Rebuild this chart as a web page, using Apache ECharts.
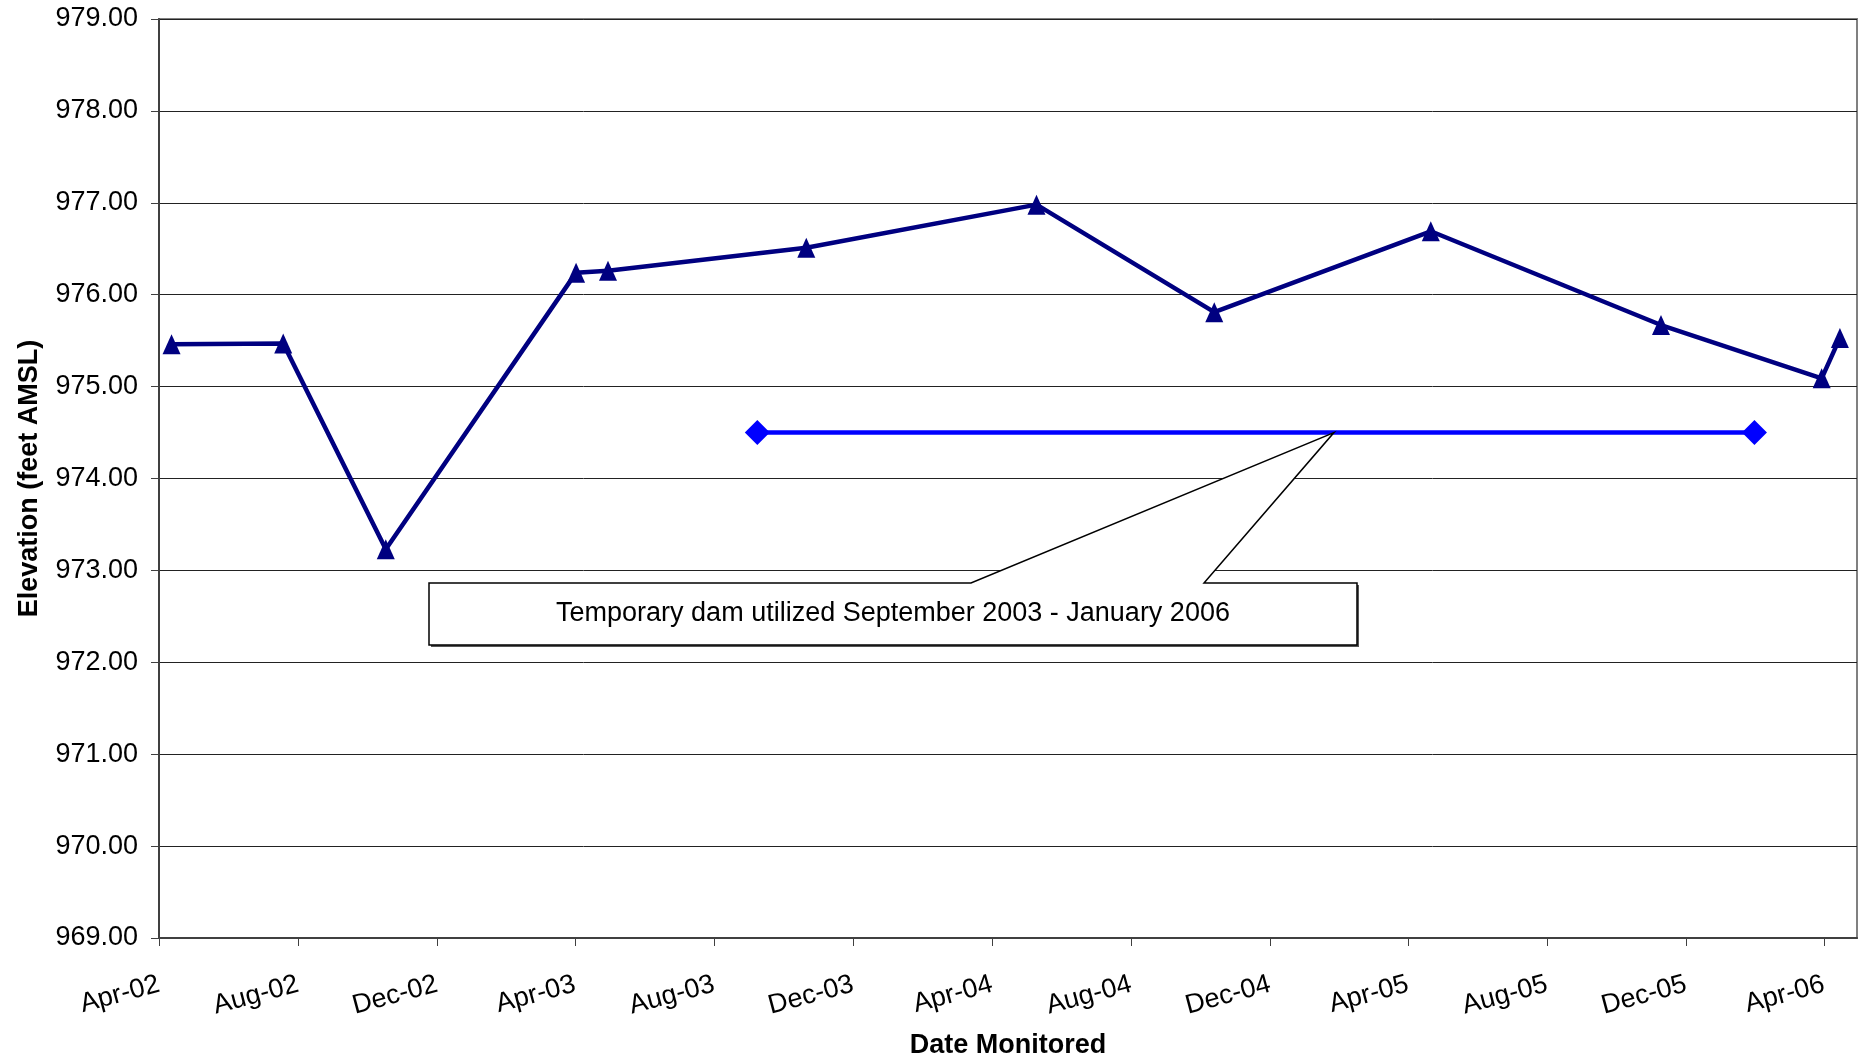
<!DOCTYPE html>
<html>
<head>
<meta charset="utf-8">
<script src="https://cdn.jsdelivr.net/npm/echarts@6/dist/echarts.min.js"></script>
<style>
html,body{margin:0;padding:0;background:#fff;}
#chart{width:1863px;height:1062px;}
</style>
</head>
<body>
<div id="chart"></div>
<script>
// Monitored elevations (feet AMSL)
const monitorDates = ['2002-04-12','2002-07-19','2002-10-17','2003-04-02','2003-04-30','2003-10-21','2004-05-10','2004-10-13','2005-04-21','2005-11-09','2006-03-30','2006-04-15'];
const monitorElev = [975.46, 975.47, 973.23, 976.24, 976.26, 976.51, 976.98, 975.81, 976.69, 975.67, 975.09, 975.53];
// Temporary dam period
const damDates = ['2003-09-08', '2006-01-30'];
const damElev = [974.50, 974.50];
// X-axis tick dates
const tickDates = ['2002-04-01','2002-08-01','2002-12-01','2003-04-01','2003-08-01','2003-12-01','2004-04-01','2004-08-01','2004-12-01','2005-04-01','2005-08-01','2005-12-01','2006-04-01'];
const monthNames = ['Jan','Feb','Mar','Apr','May','Jun','Jul','Aug','Sep','Oct','Nov','Dec'];
const calloutText = 'Temporary dam utilized September 2003 - January 2006';
const calloutAnchor = ['2005-01-26', 974.5];

function toTs(s){ const p = s.split('-').map(Number); return Date.UTC(p[0], p[1]-1, p[2]); }

const FONT = 'Liberation Sans, Arial, sans-serif';
const FS = 27;
const chart = echarts.init(document.getElementById('chart'));
const option = {
  animation: false,
  backgroundColor: '#fff',
  grid: { left: 159, right: 6, top: 19, bottom: 124, containLabel: false, outerBoundsMode: 'none', show: true, borderColor: '#808080', borderWidth: 2, backgroundColor: 'transparent' },
  xAxis: {
    type: 'value',
    min: toTs('2002-04-01'),
    max: toTs('2006-04-30'),
    name: 'Date Monitored',
    nameLocation: 'middle',
    nameGap: 94,
    nameTextStyle: { fontFamily: FONT, fontSize: FS, fontWeight: 'bold', color: '#000' },
    axisLine: { show: true, lineStyle: { color: '#404040', width: 2 } },
    axisTick: { show: true, length: 8, lineStyle: { color: '#404040', width: 1 }, customValues: tickDates.map(toTs) },
    axisLabel: {
      customValues: tickDates.map(toTs),
      rotate: 15,
      margin: 46,
      fontFamily: FONT, fontSize: FS, color: '#000',
      formatter: function (v) { const d = new Date(v); return monthNames[d.getUTCMonth()] + '-' + String(d.getUTCFullYear() % 100).padStart(2, '0'); }
    },
    splitLine: { show: false }
  },
  yAxis: {
    type: 'value',
    min: 969, max: 979, interval: 1,
    name: 'Elevation (feet AMSL)',
    nameLocation: 'middle',
    nameGap: 116,
    nameTextStyle: { fontFamily: FONT, fontSize: FS, fontWeight: 'bold', color: '#000' },
    axisLine: { show: true, lineStyle: { color: '#404040', width: 2 } },
    axisTick: { show: true, inside: false, length: 8, lineStyle: { color: '#404040', width: 1 } },
    axisLabel: { margin: 21, fontFamily: FONT, fontSize: FS, color: '#000', formatter: function (v) { return v.toFixed(2); } },
    splitLine: { show: true, lineStyle: { color: '#222', width: 1 } }
  },
  series: [
    {
      type: 'line',
      data: monitorDates.map((d, i) => [toTs(d), monitorElev[i]]),
      symbol: 'triangle', symbolSize: [18, 20],
      lineStyle: { color: '#000080', width: 4.5 },
      itemStyle: { color: '#000080' },
      z: 3
    },
    {
      type: 'line',
      data: damDates.map((d, i) => [toTs(d), damElev[i]]),
      symbol: 'diamond', symbolSize: 25,
      lineStyle: { color: '#0000FF', width: 4.5 },
      itemStyle: { color: '#0000FF' },
      z: 3
    }
  ]
};
chart.setOption(option);

const apex = chart.convertToPixel({ gridIndex: 0 }, [toTs(calloutAnchor[0]), calloutAnchor[1]]);
const bx0 = 429, bx1 = 1357, by0 = 583, by1 = 645, wl = 971, wr = 1204;
chart.setOption({
  graphic: [
    {
      type: 'rect', z: 99,
      shape: { x: bx0 + 2, y: by0 + 2, width: bx1 - bx0, height: by1 - by0 },
      style: { fill: '#555', stroke: null }
    },
    {
      type: 'polygon', z: 100,
      shape: { points: [[bx0, by0], [wl, by0], apex, [wr, by0], [bx1, by0], [bx1, by1], [bx0, by1]] },
      style: { fill: '#fff', stroke: '#000', lineWidth: 1.5 }
    },
    {
      type: 'text', z: 101,
      x: (bx0 + bx1) / 2, y: (by0 + by1) / 2,
      style: { text: calloutText, font: FS + 'px ' + FONT, fill: '#000', align: 'center', verticalAlign: 'middle' }
    }
  ]
});
</script>
</body>
</html>
